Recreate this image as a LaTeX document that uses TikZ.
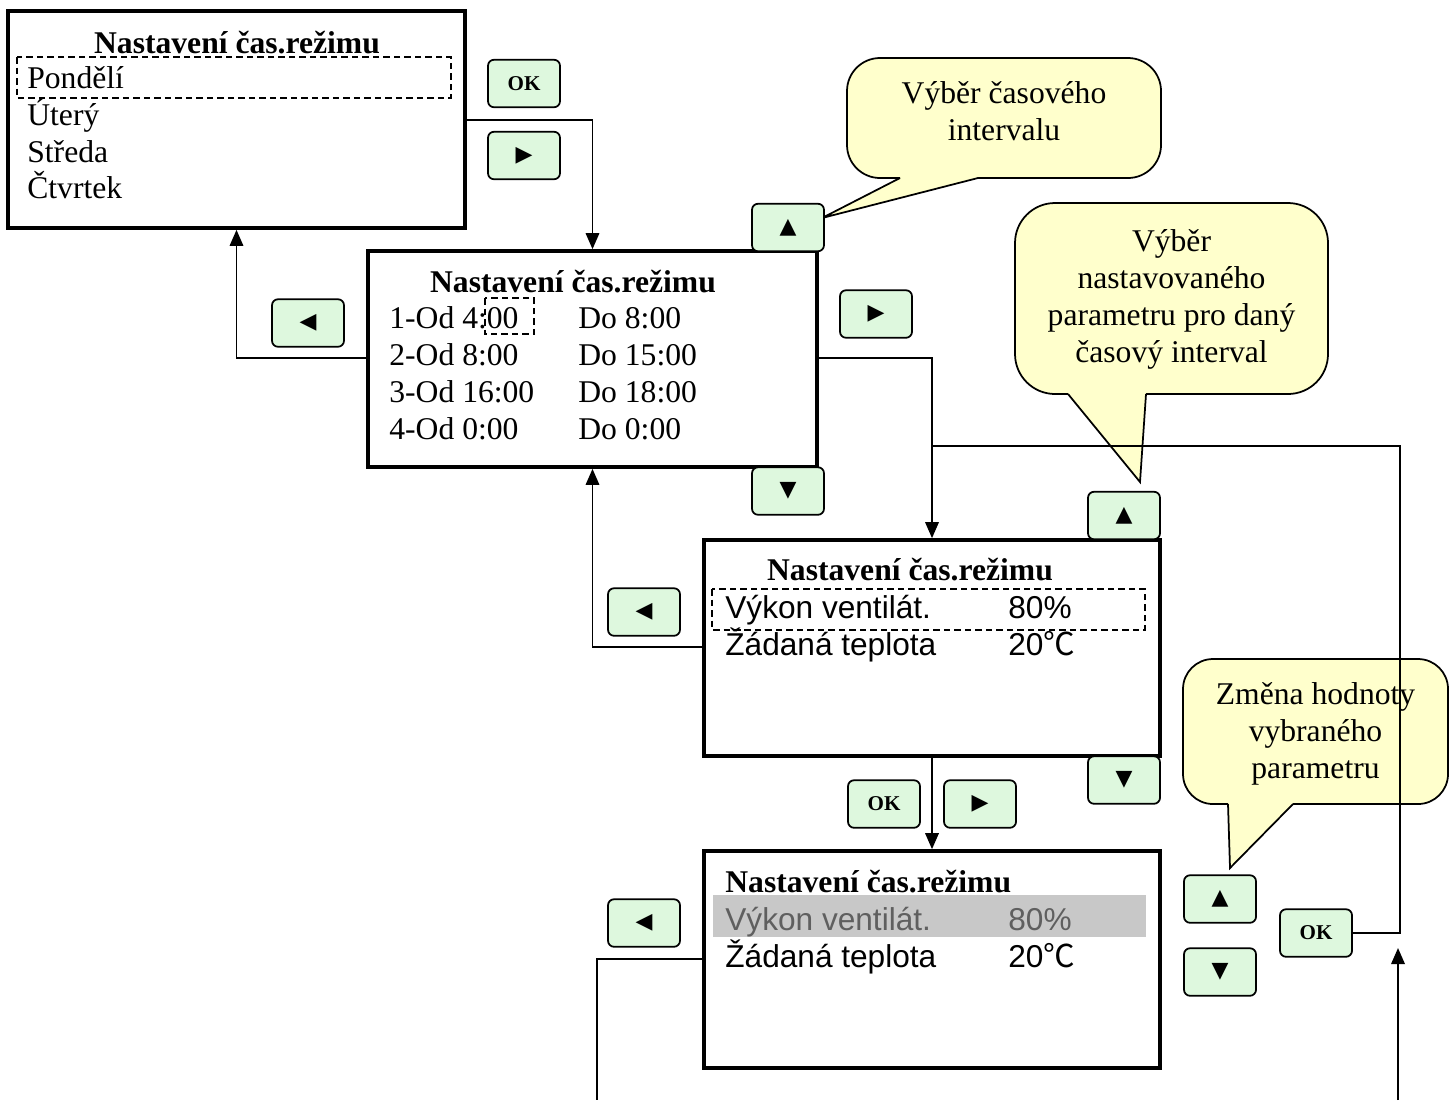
\documentclass[tikz,border=0pt]{standalone}
\usepackage{fontspec}
\setmainfont{Liberation Serif}
\newfontfamily\arialf{Liberation Sans}
\newfontfamily\symf{DejaVu Sans}
\newfontfamily\cjkf{Noto Sans CJK SC}
\usetikzlibrary{arrows.meta}
\definecolor{btnfill}{RGB}{222,248,222}
\definecolor{callfill}{RGB}{255,255,204}
\definecolor{hlgray}{RGB}{200,200,200}
\definecolor{hltext}{RGB}{95,95,95}
\begin{document}
\begin{tikzpicture}[x=0.02cm,y=-0.02cm,
  scr/.style={draw, line width=0.075cm, fill=white, inner sep=0},
  btn/.style={draw, line width=0.035cm, rounded corners=0.12cm, fill=btnfill, minimum width=1.44cm, minimum height=0.95cm, inner sep=0, font=\fontsize{12.5}{14}\selectfont\symf},
  okbtn/.style={btn, font=\fontsize{12}{14}\selectfont\bfseries},
  conn/.style={line width=0.035cm},
  arr/.style={conn, -{Triangle[length=0.32cm,width=0.27cm]}},
  lbl/.style={font=\fontsize{18}{21}\selectfont, inner sep=0, anchor=base west},
  ttl/.style={font=\fontsize{18}{21}\selectfont\bfseries, inner sep=0, anchor=base},
  sans/.style={font=\fontsize{18}{21}\selectfont\arialf, inner sep=0, anchor=base west},
  sel/.style={draw, dash pattern=on 0.13cm off 0.08cm, line width=0.035cm},
  call/.style={draw, line width=0.035cm, fill=callfill},
  ctext/.style={font=\fontsize{18}{21}\selectfont, inner sep=0, anchor=base}
]
\useasboundingbox (0,0) rectangle (1456,1100);
\fill[white] (0,0) rectangle (1456,1100);

% screens
\node[scr, minimum width=9.14cm, minimum height=4.34cm] (s1) at (236.5,119.5) {};
\node[scr, minimum width=8.98cm, minimum height=4.32cm] (s2) at (592.5,359) {};
\node[scr, minimum width=9.12cm, minimum height=4.32cm] (s3) at (932,648) {};
\node[scr, minimum width=9.12cm, minimum height=4.34cm] (s4) at (932,959.5) {};

% screen 1 content
\draw[sel] (17,57) rectangle (451,98);
\node[ttl] (t1) at (237,53) {Nastavení čas.režimu};
\node[lbl] (a1) at (27,88) {Pondělí};
\node[lbl] (a2) at (27,125) {Úterý};
\node[lbl] (a3) at (27,162) {Středa};
\node[lbl] (a4) at (27,198) {Čtvrtek};

% screen 2 content
\draw[sel] (485,298) rectangle (534,334);
\node[ttl] (t2) at (573,292) {Nastavení čas.režimu};
\node[lbl] (b1) at (389,328) {1-Od 4:00};
\node[lbl] (b2) at (389,365) {2-Od 8:00};
\node[lbl] (b3) at (389,402) {3-Od 16:00};
\node[lbl] (b4) at (389,439) {4-Od 0:00};
\node[lbl] (c1) at (578,328) {Do 8:00};
\node[lbl] (c2) at (578,365) {Do 15:00};
\node[lbl] (c3) at (578,402) {Do 18:00};
\node[lbl] (c4) at (578,439) {Do 0:00};

% screen 3 content
\draw[sel] (712,589) rectangle (1145,630);
\node[ttl] (t3) at (910,580) {Nastavení čas.režimu};
\node[sans] (d1) at (725,618) {Výkon ventilát.};
\node[sans] (e1) at (1008,618) {80\%};
\node[sans] (d2) at (725,655) {Žádaná teplota};
\node[sans] (e2) at (1008,655) {20{\cjkf ℃}};

% screen 4 content
\fill[hlgray] (713,895) rectangle (1146,937);
\node[ttl, anchor=base west] (t4) at (725,892) {Nastavení čas.režimu};
\node[sans, text=hltext] (f1) at (725,930) {Výkon ventilát.};
\node[sans, text=hltext] (g1) at (1008,930) {80\%};
\node[sans] (f2) at (725,967) {Žádaná teplota};
\node[sans] (g2) at (1008,967) {20{\cjkf ℃}};

% callouts
\draw[call, rounded corners=0.66cm] (847,58) rectangle (1161,178);
\fill[callfill] (901,175) -- (900,178) -- (822,218) -- (978,178) -- (976,175) -- cycle;
\draw[conn] (900,178) -- (822,218) -- (978,178);
\node[ctext] (k1) at (1004,103) {Výběr časového};
\node[ctext] (k2) at (1004,140) {intervalu};

\draw[call, rounded corners=0.8cm] (1015,203) rectangle (1328,394);
\fill[callfill] (1069,391) -- (1068,394) -- (1140,482) -- (1146,394) -- (1145,391) -- cycle;
\draw[conn] (1068,394) -- (1140,482) -- (1146,394);
\node[ctext] (m1) at (1171.5,251) {Výběr};
\node[ctext] (m2) at (1171.5,288) {nastavovaného};
\node[ctext] (m3) at (1171.5,325) {parametru pro daný};
\node[ctext] (m4) at (1171.5,362) {časový interval};

\draw[call, rounded corners=0.6cm] (1183,659) rectangle (1448,804);
\fill[callfill] (1229,801) -- (1228,804) -- (1230,868) -- (1293,804) -- (1291,801) -- cycle;
\draw[conn] (1228,804) -- (1230,868) -- (1293,804);
\node[ctext] (n1) at (1315.5,704) {Změna hodnoty};
\node[ctext] (n2) at (1315.5,741) {vybraného};
\node[ctext] (n3) at (1315.5,778) {parametru};

% buttons
\node[okbtn] (ok1) at (524,83.5) {OK};
\node[btn] (r1) at (524,155.5) {▶};
\node[btn] (u1) at (788,227.5) {▲};
\node[btn] (l1) at (308,323) {◀};
\node[btn] (r2) at (876,314) {▶};
\node[btn] (d1) at (788,491) {▼};
\node[btn] (u2) at (1124,515.5) {▲};
\node[btn] (l2) at (644,612) {◀};
\node[btn] (d2) at (1124,780) {▼};
\node[okbtn] (ok2) at (884,804) {OK};
\node[btn] (r3) at (980,804) {▶};
\node[btn] (l3) at (644,923) {◀};
\node[btn] (u3) at (1220,899) {▲};
\node[btn] (d3) at (1220,972) {▼};
\node[okbtn] (ok3) at (1316,933) {OK};

% connectors
\coordinate (bl) at (597,1100);
\coordinate (jr) at (1400,446);
\coordinate (br) at (1398,1100);
\coordinate (bt) at (1398,948);
\draw[arr] (s1.east |- 0,120) -| (s2.north);
\draw[arr] (s2.west |- 0,358) -| (s1.south);
\draw[arr] (s2.east |- 0,358) -| (s3.north);
\draw[arr] (s3.west |- 0,647) -| (s2.south);
\draw[arr] (s3.south) -- (s4.north);
\draw[conn] (s4.west |- 0,959) -| (bl);
\draw[conn] (ok3.east) -| (jr) -- (s3.north |- jr);
\draw[arr] (br) -- (bt);
\end{tikzpicture}
\end{document}
